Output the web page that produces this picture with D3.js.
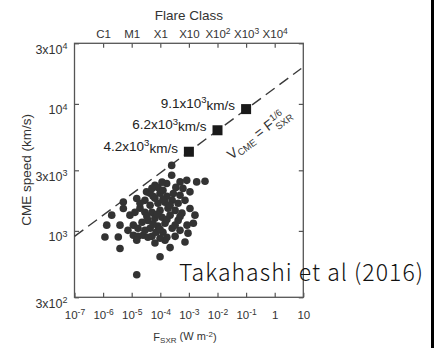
<!DOCTYPE html>
<html>
<head>
<meta charset="utf-8">
<script src="https://cdn.jsdelivr.net/npm/d3@7"></script>
<style>
  html, body { margin: 0; padding: 0; background: #fff; }
  svg { display: block; }
  svg text { font-family: "Liberation Sans", Arial, Helvetica, sans-serif; }
</style>
</head>
<body>
<svg id="chart" width="438" height="348"></svg>
<script>
// Observed CMEs: peak soft X-ray flux (W m^-2) and CME speed (km/s)
const flux = [
  2.5e-4, 2.5e-4, 6.5e-5, 1.67e-4, 4.9e-4, 8.4e-4, 1.87e-3, 3.66e-3,
  5.1e-6, 1.5e-5, 3.3e-5, 2.0e-6, 5.1e-6, 2.85e-4, 1.09e-3, 1.34e-6,
  3.9e-6, 1.14e-5, 1.43e-3, 1.16e-6, 3.4e-6, 1.14e-5, 1.66e-5, 2.5e-5,
  3.7e-5, 5.1e-5, 3.9e-6, 1.5e-5, 6.5e-5, 1.46e-4, 2.2e-4, 7.3e-4,
  9.8e-5, 1.5e-5, 4.4e-5, 9.8e-5, 8.3e-5, 1.24e-4, 3.5e-4, 6.2e-4,
  1.09e-3, 4.9e-4, 1.7e-4, 6.5e-5, 2.9e-5, 4.4e-5, 8.3e-5, 1.46e-4,
  2.6e-4, 4.2e-4, 7.3e-4, 1.86e-4, 9.8e-5, 5.1e-5, 2.9e-5, 1.95e-5,
  3.3e-4, 5.7e-4, 2.2e-4, 1.15e-4, 6.5e-5, 3.7e-5, 2.3e-5, 4.2e-4,
  1.46e-4, 8.3e-5, 4.4e-5, 2.6e-4, 4.9e-4, 1.24e-4, 7.1e-5, 2.9e-5,
  1.66e-5, 8.6e-4, 3.3e-4, 1.7e-4, 9.8e-5, 8.7e-6, 1.3e-5, 1.95e-5,
  1.63e-3, 9.3e-4, 7.4e-6, 1.15e-4, 5.1e-5, 5.6e-5, 1.24e-4, 2.2e-4,
  7.7e-5, 1.7e-4, 5.6e-5, 3.3e-4, 9.8e-5, 3.4e-5, 4.9e-4
];
const speed = [
  3280, 2740, 2290, 2360, 2430, 2500, 2430, 2460,
  1690, 1800, 2030, 1330, 1500, 1970, 1500, 1110,
  1110, 1110, 1150, 896, 896, 923, 906, 923,
  890, 906, 726, 844, 803, 844, 739, 817,
  626, 451, 1980, 1980, 2200, 2090, 2200, 2160,
  2030, 1910, 1870, 1810, 1740, 1590, 1650, 1680,
  1740, 1650, 1740, 1510, 1450, 1400, 1400, 1510,
  1450, 1380, 1330, 1280, 1260, 1210, 1170, 1210,
  1150, 1090, 1050, 1050, 1010, 975, 975, 1010,
  1050, 1110, 906, 890, 875, 1330, 1400, 1650,
  1330, 960, 1010, 2420, 2160, 1870, 1770, 1590,
  1350, 1230, 1130, 1110, 1030, 1300, 1300
];

// Predicted speeds for superflares
const superFlux = [1e-3, 1e-2, 1e-1];
const superSpeed = [4200, 6200, 9100];
const superLabels = [["4.2x10", "3", "km/s"], ["6.2x10", "3", "km/s"], ["9.1x10", "3", "km/s"]];

// Empirical upper bound V = F^(1/6) (end points of the dashed line)
const boundFlux = [1e-7, 8.5];
const boundSpeed = [905, 19000];

// Tick values and labels: [base, superscript]
const xTickValues = [1e-7, 1e-6, 1e-5, 1e-4, 1e-3, 1e-2, 1e-1, 1, 10];
const xTickLabels = [["10","-7"],["10","-6"],["10","-5"],["10","-4"],["10","-3"],["10","-2"],["10","-1"],["1",""],["10",""]];
const flareValues = [1e-6, 1e-5, 1e-4, 1e-3, 1e-2, 1e-1, 1];
const flareLabels = [["C1",""],["M1",""],["X1",""],["X10",""],["X10","2"],["X10","3"],["X10","4"]];
const yTickValues = [300, 1000, 3000, 10000, 30000];
const yTickLabels = [["3x10","2"],["10","3"],["3x10","3"],["10","4"],["3x10","4"]];

const svg = d3.select("#chart");
const plotLeft = 74.5, plotRight = 303.3, plotTop = 43.3, plotBottom = 297.3;

const x = d3.scaleLog().domain([1e-7, 10]).range([plotLeft, plotRight]);
const y = d3.scaleLog().domain([300, 30000]).range([plotBottom, plotTop]);

const axisColor = "#555";
const textColor = "#333";

function writeLabel(textSel, parts, supSize) {
  textSel.text(null);
  textSel.append("tspan").text(parts[0]);
  if (parts[1]) {
    textSel.append("tspan")
      .attr("dy", "-0.5em")
      .attr("font-size", supSize)
      .text(parts[1]);
  }
  if (parts[2]) {
    textSel.append("tspan")
      .attr("dy", "0.5em")
      .text(parts[2]);
  }
}

function styleAxis(g) {
  g.select(".domain").remove();
  g.selectAll(".tick line").attr("stroke", axisColor).attr("stroke-width", 1.2);
}

// bottom axis
const gBottom = svg.append("g").attr("transform", `translate(0,${plotBottom})`)
  .call(d3.axisBottom(x).tickValues(xTickValues).tickSizeInner(-4.5).tickSizeOuter(0).tickFormat(() => ""));
styleAxis(gBottom);
gBottom.selectAll(".tick text")
  .attr("y", 22).attr("dy", null)
  .attr("font-size", 11.5).attr("fill", textColor)
  .each(function(d, i) { writeLabel(d3.select(this), xTickLabels[i], 8.5); });

// top axis (flare class)
const gTop = svg.append("g").attr("transform", `translate(0,${plotTop})`)
  .call(d3.axisTop(x).tickValues(flareValues).tickSizeInner(-4.5).tickSizeOuter(0).tickFormat(() => ""));
styleAxis(gTop);
gTop.selectAll(".tick text")
  .attr("y", -5.5).attr("dy", null)
  .attr("font-size", 11.5).attr("fill", textColor)
  .each(function(d, i) { writeLabel(d3.select(this), flareLabels[i], 8.5); });

// left axis
const gLeft = svg.append("g").attr("transform", `translate(${plotLeft},0)`)
  .call(d3.axisLeft(y).tickValues(yTickValues).tickSizeInner(-4.5).tickSizeOuter(0).tickFormat(() => ""));
styleAxis(gLeft);
gLeft.selectAll(".tick text")
  .attr("x", -7).attr("dy", "0.78em")
  .attr("font-size", 12.5).attr("fill", textColor)
  .each(function(d, i) { writeLabel(d3.select(this), yTickLabels[i], 9); });

// right axis (ticks only)
const gRight = svg.append("g").attr("transform", `translate(${plotRight},0)`)
  .call(d3.axisRight(y).tickValues(yTickValues).tickSizeInner(-4.5).tickSizeOuter(0).tickFormat(() => ""));
styleAxis(gRight);

// frame
svg.append("rect")
  .attr("x", plotLeft).attr("y", plotTop)
  .attr("width", plotRight - plotLeft).attr("height", plotBottom - plotTop)
  .attr("fill", "none").attr("stroke", axisColor).attr("stroke-width", 1.3);

// axis titles
svg.append("text")
  .attr("x", (plotLeft + plotRight) / 2).attr("y", 20)
  .attr("text-anchor", "middle").attr("font-size", 13.5).attr("fill", textColor)
  .text("Flare Class");

svg.append("text")
  .attr("transform", `translate(30.5,${(plotTop + plotBottom) / 2 - 0.5}) rotate(-90)`)
  .attr("text-anchor", "middle").attr("font-size", 13.5).attr("fill", textColor)
  .text("CME speed (km/s)");

const xTitle = svg.append("text")
  .attr("x", 185).attr("y", 341)
  .attr("text-anchor", "middle").attr("font-size", 11).attr("fill", textColor);
xTitle.append("tspan").text("F");
xTitle.append("tspan").attr("font-size", 8).attr("dy", "0.3em").text("SXR");
xTitle.append("tspan").attr("dy", "-0.3em").text(" (W m");
xTitle.append("tspan").attr("font-size", 8).attr("dy", "-0.45em").text("-2");
xTitle.append("tspan").attr("dy", "0.45em").text(")");

// dashed power-law bound
const line = d3.line().x((d, i) => x(boundFlux[i])).y((d, i) => y(boundSpeed[i]));
svg.append("path")
  .datum(boundFlux)
  .attr("d", line)
  .attr("fill", "none")
  .attr("stroke", "#3a3a3a")
  .attr("stroke-width", 1.4)
  .attr("stroke-dasharray", "11,6");

// observed events
svg.append("g").selectAll("circle")
  .data(flux)
  .join("circle")
  .attr("cx", (d) => x(d))
  .attr("cy", (d, i) => y(speed[i]))
  .attr("r", 3.8)
  .attr("fill", "#333");

// superflare predictions
const sq = 10;
svg.append("g").selectAll("rect")
  .data(superFlux)
  .join("rect")
  .attr("x", (d) => x(d) - sq / 2)
  .attr("y", (d, i) => y(superSpeed[i]) - sq / 2)
  .attr("width", sq).attr("height", sq)
  .attr("fill", "#1a1a1a");

svg.append("g").selectAll("text")
  .data(superFlux)
  .join("text")
  .attr("x", (d) => x(d) - 11)
  .attr("y", (d, i) => y(superSpeed[i]) - 1)
  .attr("text-anchor", "end")
  .attr("font-size", 13.5)
  .attr("fill", "#222")
  .each(function(d, i) { writeLabel(d3.select(this), superLabels[i], 9.5); });

// formula along the bound
const slopeDeg = Math.atan2(y(boundSpeed[1]) - y(boundSpeed[0]), x(boundFlux[1]) - x(boundFlux[0])) * 180 / Math.PI;
const fg = svg.append("g").attr("transform", `translate(231.5,160) rotate(${slopeDeg})`);
const fText = fg.append("text").attr("font-size", 14).attr("fill", textColor);
fText.append("tspan").text("V");
fText.append("tspan").attr("font-size", 9.5).attr("dy", "0.25em").text("CME");
fText.append("tspan").attr("dy", "-0.25em").text(" = F");
const fw = fText.node().getComputedTextLength();
fg.append("text").attr("x", fw + 0.5).attr("y", -6.5).attr("font-size", 9.5).attr("fill", textColor).text("1/6");
fg.append("text").attr("x", fw + 0.5).attr("y", 4).attr("font-size", 9.5).attr("fill", textColor).text("SXR");

// citation, spread to its set width
const citeText = "Takahashi et al (2016)";
const cite = svg.append("text")
  .attr("x", 179).attr("y", 281)
  .style("font-family", "'Noto Sans CJK JP', 'Noto Sans', sans-serif")
  .style("font-weight", 300)
  .attr("font-size", 23)
  .attr("fill", "#111")
  .text(citeText);
const cw = cite.node().getComputedTextLength();
cite.attr("letter-spacing", Math.max(0, (244 - cw) / (citeText.length - 1)));

// right-hand border
svg.append("rect")
  .attr("x", 431).attr("y", 0)
  .attr("width", 3).attr("height", 348)
  .attr("fill", "#000");
</script>
</body>
</html>
